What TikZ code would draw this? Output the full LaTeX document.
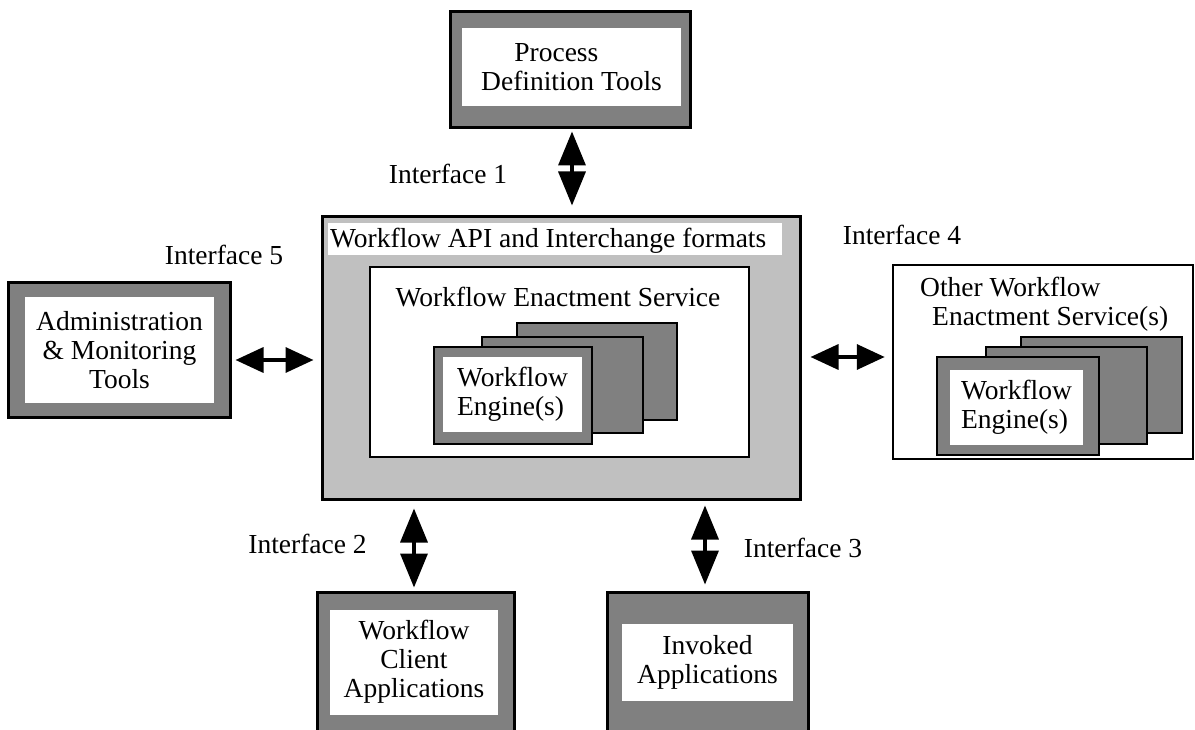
\documentclass[tikz,border=0pt]{standalone}
\usepackage{fontspec}
\setmainfont{Liberation Serif}
\usetikzlibrary{arrows.meta,calc}
\definecolor{dgray}{HTML}{808080}
\definecolor{lgray}{HTML}{C0C0C0}
\tikzset{
  outerbox/.style={draw=black, line width=3pt, fill=dgray, inner sep=0pt},
  pane/.style={fill=white, inner sep=0pt, align=center},
  enginebox/.style={draw=black, line width=2.5pt, fill=dgray, inner sep=0pt},
  lbl/.style={inner sep=0pt},
  varrow/.style={line width=3.5pt, {Triangle[width=27pt,length=34pt]}-{Triangle[width=27pt,length=34pt]}},
  harrow/.style={line width=3.5pt, {Triangle[width=25pt,length=28pt]}-{Triangle[width=25pt,length=28pt]}},
}
\begin{document}
\begin{tikzpicture}[x=1pt,y=-1pt,font=\fontsize{27.5}{29}\selectfont]
\clip (0,0) rectangle (1195,730);
\fill[white] (0,0) rectangle (1195,730);

% Process Definition Tools
\node[outerbox, minimum width=240pt, minimum height=116pt] (pdt) at (570,70) {};
\node[pane, minimum width=219pt, minimum height=78pt] (pdtpane) at (571.5,67) {Process\hspace*{1.1em}\\Definition Tools};

% Main box
\node[draw=black, line width=3pt, fill=lgray, inner sep=0pt, minimum width=478pt, minimum height=282pt] (main) at (561,358) {};
\node[fill=white, inner sep=0pt, minimum width=454pt, minimum height=32pt, anchor=west] (titlestrip) at (328,239) {};
\node[lbl, anchor=base west] (apititle) at (330,248) {Workflow API and Interchange formats};
\node[draw=black, line width=2.5pt, fill=white, inner sep=0pt, minimum width=379pt, minimum height=190pt] (wes) at (559.5,362) {};
\node[lbl, anchor=base] (westitle) at (558,307) {Workflow Enactment Service};
\node[enginebox, minimum width=160pt, minimum height=97pt] (eng3) at (597,371.5) {};
\node[enginebox, minimum width=161pt, minimum height=96pt] (eng2) at (562.5,385) {};
\node[enginebox, minimum width=158pt, minimum height=97pt] (eng1) at (513,395.5) {};
\node[pane, align=left, minimum width=139pt, minimum height=75pt] (eng1pane) at (512.5,394) {Workflow\\Engine(s)};

% Administration
\node[outerbox, minimum width=222pt, minimum height=134pt] (admin) at (119,350) {};
\node[pane, minimum width=189pt, minimum height=105pt] (adminpane) at (119.5,350) {Administration\\\& Monitoring\\Tools};

% Other workflow enactment services
\node[draw=black, line width=2.5pt, fill=white, inner sep=0pt, minimum width=300pt, minimum height=194pt] (other) at (1043,362) {};
\node[lbl, anchor=base west] (otherl1) at (920,297) {Other Workflow};
\node[lbl, anchor=base west] (otherl2) at (932,326) {Enactment Service(s)};
\node[enginebox, minimum width=161pt, minimum height=96pt] (oeng3) at (1101.5,385) {};
\node[enginebox, minimum width=161pt, minimum height=97pt] (oeng2) at (1066.5,395.5) {};
\node[enginebox, minimum width=162pt, minimum height=98pt] (oeng1) at (1018,406) {};
\node[pane, align=left, minimum width=133pt, minimum height=75pt] (oeng1pane) at (1016.5,407) {Workflow\\Engine(s)};

% Workflow client applications
\node[outerbox, minimum width=197pt, minimum height=153pt] (client) at (415.5,668.5) {};
\node[pane, minimum width=168pt, minimum height=105pt] (clientpane) at (414,662) {Workflow\\Client\\Applications};

% Invoked applications
\node[outerbox, minimum width=201pt, minimum height=153pt] (invoked) at (707.5,668.5) {};
\node[pane, minimum width=171pt, minimum height=77pt] (invokedpane) at (707.5,662) {Invoked\\Applications};

% Interface labels
\node[lbl, anchor=base] (if1) at (448,184) {Interface 1};
\node[lbl, anchor=base] (if5) at (224,265) {Interface 5};
\node[lbl, anchor=base] (if4) at (902,245) {Interface 4};
\node[lbl, anchor=base] (if2) at (307.5,553) {Interface 2};
\node[lbl, anchor=base] (if3) at (803,557) {Interface 3};

% Arrows
\draw[varrow] ($(pdt.south)+(2,2)$) -- ($(pdt.south |- main.north)+(2,-10)$);
\draw[varrow] ($(client.north |- main.south)+(-1.5,8)$) -- ($(client.north)+(-1.5,-3)$);
\draw[varrow] ($(invoked.north |- main.south)+(-2.5,5)$) -- ($(invoked.north)+(-2.5,-6)$);
\draw[harrow] ($(admin.east)+(4,10)$) -- ($(main.west |- admin.east)+(-7,10)$);
\draw[harrow] ($(main.east)+(9,-1)$) -- ($(other.west |- main.east)+(-7,-1)$);
\end{tikzpicture}
\end{document}
